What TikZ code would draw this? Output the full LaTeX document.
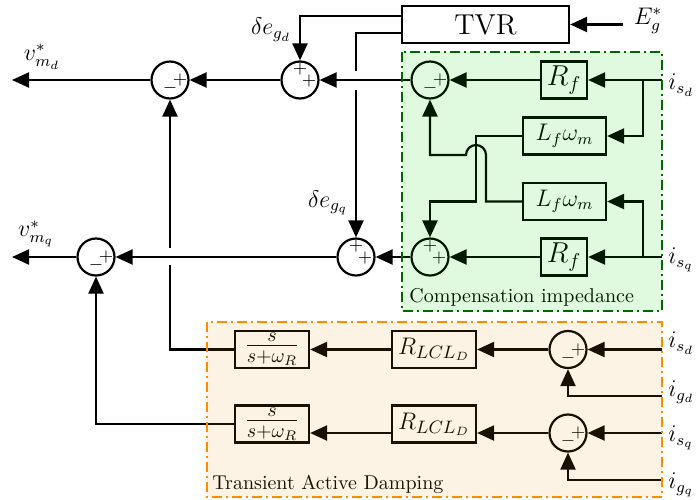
\documentclass[tikz,border=0pt]{standalone}
\usetikzlibrary{arrows.meta,calc}
\definecolor{gfill}{RGB}{0,210,0}
\definecolor{ofill}{RGB}{238,150,13}
\definecolor{gborder}{RGB}{0,105,0}
\definecolor{oborder}{RGB}{255,140,0}
\begin{document}
\begin{tikzpicture}[x=0.5pt,y=-0.5pt,
  wire/.style={line width=1.1pt},
  arr/.style={wire,-{Triangle[length=8.5pt,width=7.5pt]}},
  sumc/.style={circle,draw,line width=1.1pt,minimum size=18.5pt,inner sep=0pt,fill=white},
  blk/.style={draw,rectangle,line width=1.1pt,inner sep=0pt,fill=white,minimum height=18.5pt},
  sg/.style={inner sep=0pt,font=\small},
  lbl/.style={inner sep=0pt,font=\large},
  grp/.style={line width=1pt,dash pattern=on 5pt off 2pt on 1pt off 2pt},
]
\useasboundingbox (0,0) rectangle (696,499);

% ---- d row
\node[sumc] (S1) at (170,80) {};
\node[sumc] (S2) at (300,80) {};
\node[sumc] (S3) at (430,80) {};
\node[blk,minimum width=23pt,font=\Large] (Rf1) at (564,80) {$R_f$};
\node[blk,minimum width=83.5pt,font=\Large] (TVR) at (485.5,24.5) {TVR};
\node[blk,minimum width=41.5pt,font=\large] (Lf1) at (564.5,136) {$L_f\omega_m$};
\node[blk,minimum width=41.5pt,font=\large] (Lf2) at (564.5,201.5) {$L_f\omega_m$};
% ---- q row
\node[sumc] (S4) at (96,257) {};
\node[sumc] (S5) at (356,257) {};
\node[sumc] (S6) at (430,257) {};
\node[blk,minimum width=23pt,font=\Large] (Rf2) at (564,257) {$R_f$};
% ---- damping
\node[blk,minimum width=37pt,font=\Large] (F1) at (272,349.5) {$\frac{s}{s+\omega_R}$};
\node[blk,minimum width=42pt,font=\fontsize{13}{15}\selectfont] (RL1) at (434,349.5) {$R_{LCL_D}$};
\node[sumc] (O1) at (568,349.5) {};
\node[blk,minimum width=37pt,font=\Large] (F2) at (272,424) {$\frac{s}{s+\omega_R}$};
\node[blk,minimum width=42pt,font=\fontsize{13}{15}\selectfont] (RL2) at (434,424) {$R_{LCL_D}$};
\node[sumc] (O2) at (568,433) {};

% ---- signs
\foreach \s in {S1,S3,S4,O1,O2}{
  \node[sg] at ($(\s)+(0,8)$) {$-$};
  \node[sg] at ($(\s)+(10,0)$) {$+$};
}
\foreach \s in {S2,S5,S6}{
  \node[sg] at ($(\s)+(0,-11)$) {$+$};
  \node[sg] at ($(\s)+(9,1)$) {$+$};
}

% ---- coordinates
\coordinate (od) at (12,80);
\coordinate (oq) at (12,257);
\coordinate (Eg) at (623,24.5);
\coordinate (isd) at (662,80);
\coordinate (isq) at (662,257);
\coordinate (bd) at (643,80);
\coordinate (bq) at (643,257);
\coordinate (g1) at (356,71);
\coordinate (g2) at (356,90);
\coordinate (h1) at (170,265);
\coordinate (h2) at (170,248);
\coordinate (pa) at (476,201.5);
\coordinate (pb1) at (486,201.5);
\coordinate (pb2) at (486,155);
\coordinate (ind) at (662,349.5);
\coordinate (igd) at (662,396);
\coordinate (inq) at (662,433);
\coordinate (igq) at (662,480);

% ---- d connectors
\draw[arr] (S1) -- (od);
\draw[arr] (S2) -- (S1);
\draw[arr] (S3) -- (S2);
\draw[arr] (Rf1) -- (S3);
\draw[arr] (isd) -- (Rf1);
\draw[arr] (bd) |- (Lf1.east);
\draw[arr] (Eg) -- (TVR);
\draw[arr] ($(TVR.west)+(0,-8.5)$) -| (S2.north);
\draw[wire] ($(TVR.west)+(0,8.5)$) -| (g1);
\draw[arr] (g2) -- (S5.north);
% ---- cross coupling
\draw[arr] (Lf1.west) -| (pa) -| (S6.north);
\draw[arr] (Lf2.west) -- (pb1) -- (pb2) arc[start angle=0,end angle=180,radius=5pt] -| (S3.south);
% ---- q connectors
\draw[arr] (isq) -- (Rf2);
\draw[arr] (bq) |- (Lf2.east);
\draw[arr] (Rf2) -- (S6);
\draw[arr] (S6) -- (S5);
\draw[arr] (S5) -- (S4);
\draw[arr] (S4) -- (oq);
% ---- damping connectors
\draw[arr] (ind) -- (O1);
\draw[arr] (igd) -| (O1.south);
\draw[arr] (O1) -- (RL1);
\draw[arr] (RL1) -- (F1);
\draw[wire] (F1.west) -| (h1);
\draw[arr] (h2) -- (S1.south);
\draw[arr] (inq) -- (O2);
\draw[arr] (igq) -| (O2.south);
\draw[arr] (O2.west) -- (RL2.east |- O2.west);
\draw[arr] (RL2.west |- O2.west) -- (F2.east |- O2.west);
\draw[arr] (F2.west) -| (S4.south);

% ---- labels
\node[lbl] (vmd) at (42,57) {$v^*_{m_d}$};
\node[lbl] (vmq) at (36,234) {$v^*_{m_q}$};
\node[lbl] (degd) at (271,30) {$\delta e_{g_d}$};
\node[lbl] (degq) at (328,203) {$\delta e_{g_q}$};
\node[lbl] (Egl) at (648,21) {$E^*_g$};
\node[lbl,anchor=west] (l1) at (668,85) {$i_{s_d}$};
\node[lbl,anchor=west] (l2) at (668,260) {$i_{s_q}$};
\node[lbl,anchor=west] (l3) at (668,343) {$i_{s_d}$};
\node[lbl,anchor=west] (l4) at (668,392) {$i_{g_d}$};
\node[lbl,anchor=west] (l5) at (668,438) {$i_{s_q}$};
\node[lbl,anchor=west] (l6) at (668,485) {$i_{g_q}$};
\node[anchor=base west,inner sep=0pt] (cmp) at (409,302) {Compensation impedance};
\node[anchor=base west,inner sep=0pt] (tad) at (212,489) {Transient Active Damping};

% ---- group boxes
\fill[gfill,fill opacity=0.12] (402,52) rectangle (662,311);
\draw[grp,gborder] (402,52) rectangle (662,311);
\fill[ofill,fill opacity=0.11] (207,322) rectangle (662,497);
\draw[grp,oborder] (207,322) rectangle (662,497);
\end{tikzpicture}
\end{document}
